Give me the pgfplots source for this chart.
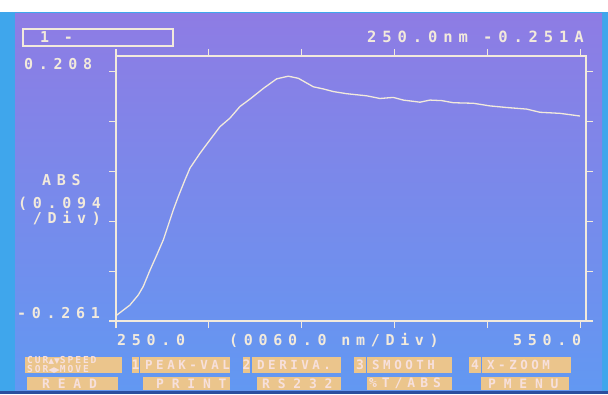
\documentclass[border=0pt]{standalone}
\usepackage{pgfplots}
\pgfplotsset{compat=1.18}
\usepackage{fontspec}
\newfontfamily\lcd{DejaVu Sans Mono}[LetterSpace=38]
\newfontfamily\lcdm{DejaVu Sans Mono}[LetterSpace=28]
\newfontfamily\lcdw{DejaVu Sans Mono}[LetterSpace=60]
\newfontfamily\lcds{DejaVu Sans Mono}[LetterSpace=20]
\newfontfamily\lcdn{DejaVu Sans Mono}
\newfontfamily\sym{DejaVu Sans}
\definecolor{lcdc}{HTML}{F2EADC}
\definecolor{tanbox}{HTML}{EBC58C}
\definecolor{tantext}{HTML}{F7E0DC}
\definecolor{scrtop}{HTML}{8E7CE4}
\definecolor{scrmid}{HTML}{7892F0}
\definecolor{scrbot}{HTML}{6298F2}
\definecolor{edgec}{HTML}{3FA6EC}
\definecolor{darkc}{HTML}{2A4E9E}
\pgfplotstableread{
nm abs
250.0 -0.251
259.0 -0.231
264.4 -0.212
267.6 -0.196
272.0 -0.165
276.3 -0.137
280.6 -0.108
283.8 -0.080
287.0 -0.052
290.2 -0.027
294.6 0.005
297.8 0.027
304.3 0.055
310.7 0.080
317.2 0.105
323.6 0.121
330.1 0.143
336.6 0.157
345.2 0.177
353.8 0.195
361.3 0.200
367.8 0.196
377.5 0.180
383.9 0.176
390.4 0.171
399.0 0.167
412.0 0.163
420.5 0.158
429.1 0.160
435.6 0.155
446.4 0.151
452.8 0.155
460.4 0.154
467.9 0.150
480.8 0.149
491.6 0.144
502.4 0.141
515.3 0.138
523.9 0.132
536.8 0.130
549.7 0.125
}\spectrum
\begin{document}
\begin{tikzpicture}
\useasboundingbox (0pt,0pt) rectangle (608pt,394pt);
% photo frame
\fill[white] (0pt,0pt) rectangle (608pt,394pt);
\fill[edgec] (0pt,0pt) rectangle (608pt,382pt);
\shade[top color=scrtop, middle color=scrmid, bottom color=scrbot] (15pt,3pt) rectangle (602pt,380pt);
\fill[darkc] (0pt,0pt) rectangle (608pt,3pt);
% header
\draw[lcdc, line width=1.3pt] (23pt,348pt) rectangle (173pt,365pt);
\node[anchor=west, inner sep=0pt, text=lcdc, font=\lcd\bfseries\fontsize{15}{15}\selectfont] at (40pt,356.5pt) {1 -};
\node[anchor=west, inner sep=0pt, text=lcdc, font=\lcd\bfseries\fontsize{15.5}{15}\selectfont] at (367pt,357pt) {250.0nm -0.251A};
% y labels
\node[anchor=west, inner sep=0pt, text=lcdc, font=\lcd\bfseries\fontsize{15}{15}\selectfont] at (24pt,330pt) {0.208};
\node[anchor=west, inner sep=0pt, text=lcdc, font=\lcd\bfseries\fontsize{15}{15}\selectfont] at (17pt,81pt) {-0.261};
\node[anchor=west, inner sep=0pt, text=lcdc, font=\lcd\bfseries\fontsize{15}{15}\selectfont] at (42pt,214pt) {ABS};
\node[anchor=north east, inner sep=0pt, align=right, text=lcdc, font=\lcd\bfseries\fontsize{15}{12.5}\selectfont] at (101pt,197pt) {(0.094\\/Div)};
% x labels
\node[anchor=west, inner sep=0pt, text=lcdc, font=\lcd\bfseries\fontsize{15}{15}\selectfont] at (117pt,54pt) {250.0};
\node[anchor=west, inner sep=0pt, text=lcdc, font=\lcd\bfseries\fontsize{15}{15}\selectfont] at (229pt,54pt) {(0060.0 nm/Div)};
\node[anchor=west, inner sep=0pt, text=lcdc, font=\lcd\bfseries\fontsize{15}{15}\selectfont] at (513pt,54pt) {550.0};
% menu row 1
\fill[tanbox] (25pt,21pt) rectangle (122pt,37pt);
\node[anchor=west, inner sep=0pt, align=left, text=tantext, font=\lcds\bfseries\fontsize{9.6}{7.8}\selectfont] at (27pt,29pt) {CUR{\sym\fontsize{7.5}{7}\selectfont▲▼}SPEED\\SOR{\sym\fontsize{7.5}{7}\selectfont◀▶}MOVE};
\foreach \a/\b/\t in {132/139/1, 243/250/2, 354/366/3, 469/481/4}{
  \fill[tanbox] (\a pt,21pt) rectangle (\b pt,37pt);
  \node[inner sep=0pt, text=tantext, font=\lcdn\bfseries\fontsize{13}{13}\selectfont] at ({(\a+\b)/2*1pt},29pt) {\t};
}
\foreach \a/\b/\t in {140/230/PEAK-VAL, 252/341/DERIVA., 367/452/SMOOTH, 482/571/X-ZOOM}{
  \fill[tanbox] (\a pt,21pt) rectangle (\b pt,37pt);
  \node[anchor=west, inner sep=0pt, text=tantext, font=\lcdm\bfseries\fontsize{12.5}{12}\selectfont] at ({(\a+5)*1pt},29pt) {\t};
}
% menu row 2
\foreach \a/\b in {27/118, 143/230, 257/341, 367/452, 481/569}{
  \fill[tanbox] (\a pt,4pt) rectangle (\b pt,17pt);
}
\node[anchor=west, inner sep=0pt, text=tantext, font=\lcdw\bfseries\fontsize{13}{12}\selectfont] at (42pt,10.5pt) {READ};
\node[anchor=west, inner sep=0pt, text=tantext, font=\lcdw\bfseries\fontsize{13}{12}\selectfont] at (156pt,10.5pt) {PRINT};
\node[anchor=west, inner sep=0pt, text=tantext, font=\lcdw\bfseries\fontsize{13}{12}\selectfont] at (262pt,10.5pt) {RS232};
\node[anchor=west, inner sep=0pt, text=tantext, font=\lcd\bfseries\fontsize{13}{12}\selectfont] at (369pt,10.5pt) {\%T/ABS};
\node[anchor=west, inner sep=0pt, text=tantext, font=\lcdw\bfseries\fontsize{13}{12}\selectfont] at (488pt,10.5pt) {PMENU};
\begin{axis}[
  at={(116pt,73pt)}, anchor=south west, scale only axis,
  width=470pt, height=265pt,
  xmin=250, xmax=553.6, ymin=-0.261, ymax=0.238,
  axis line style={draw=lcdc, line width=1.6pt},
  xtick={250,310,370,430,490,550},
  ytick={-0.261,-0.1672,-0.0734,0.0204,0.1142,0.208},
  xticklabels={}, yticklabels={},
  tick align=outside, major tick length=7pt,
  tick style={draw=lcdc, line width=1.1pt},
  xtick pos=both, ytick pos=both,
]
\addplot[lcdc, line width=1.3pt, mark=none] table[x=nm, y=abs] {\spectrum};
\end{axis}
\end{tikzpicture}
\end{document}
